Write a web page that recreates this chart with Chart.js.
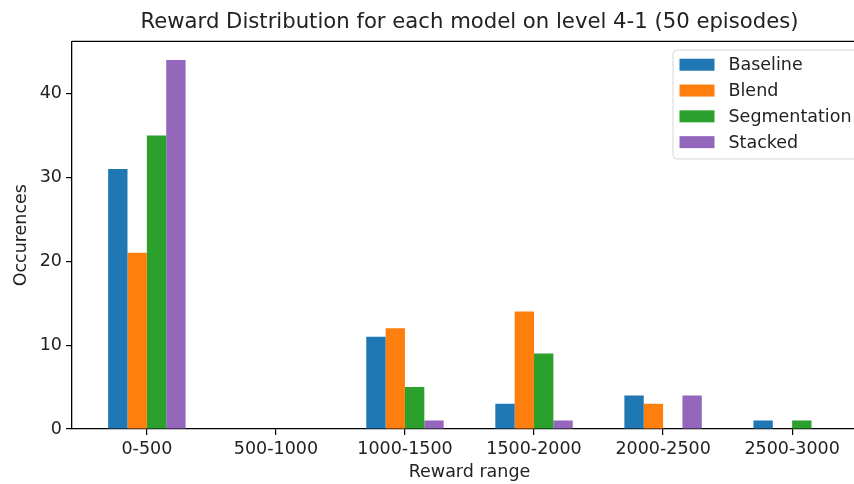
<!DOCTYPE html>
<html>
<head>
<meta charset="utf-8">
<title>Reward Distribution</title>
<script src="https://cdn.jsdelivr.net/npm/chart.js@4.4.1/dist/chart.umd.min.js"></script>
<style>
  html, body { margin: 0; padding: 0; background: #fff; overflow: hidden; }
  #wrap { width: 880px; height: 484px; }
</style>
</head>
<body>
<div id="wrap"><canvas id="chart" width="880" height="484"></canvas></div>
<script>
// reward buckets (x categories)
const categories = ["0-500", "500-1000", "1000-1500", "1500-2000", "2000-2500", "2500-3000"];

// occurrences per bucket for each model
const baseline = [31, 0, 11, 3, 4, 1];
const blend = [21, 0, 12, 14, 3, 0];
const segmentation = [35, 0, 5, 9, 0, 1];
const stacked = [44, 0, 1, 1, 4, 0];

const yTicks = [0, 10, 20, 30, 40];

const FONT = "'DejaVu Sans', sans-serif";
const TEXT = "#222";

const toPoints = (vals) => vals.map((v, i) => ({ x: i, y: v }));

// top/right spines, like the matplotlib frame
const framePlugin = {
  id: "frame",
  afterDraw(chart) {
    const { ctx, chartArea: a } = chart;
    ctx.save();
    ctx.strokeStyle = "#000";
    ctx.lineWidth = 1.3;
    ctx.beginPath();
    ctx.moveTo(a.left, a.top);
    ctx.lineTo(a.right, a.top);
    ctx.lineTo(a.right, a.bottom);
    ctx.stroke();
    ctx.restore();
  },
};

// legend boxed inside the upper right corner
const insideLegend = {
  id: "insideLegend",
  afterDraw(chart) {
    const { ctx, chartArea: a } = chart;
    const sets = chart.data.datasets;
    const size = 17.5;
    ctx.save();
    ctx.font = size + "px " + FONT;
    const textW = Math.max(...sets.map((d) => ctx.measureText(d.label).width));
    const pad = 7, handle = 35, gap = 14, row = 25.8;
    const w = pad + handle + gap + textW + pad;
    const h = 109;
    const x = a.right - 8.5 - w;
    const y = a.top + 8;

    ctx.globalAlpha = 0.8;
    ctx.fillStyle = "#fff";
    ctx.strokeStyle = "#cccccc";
    ctx.lineWidth = 1;
    ctx.beginPath();
    ctx.roundRect(x + 0.5, y + 0.5, w, h, 4);
    ctx.fill();
    ctx.stroke();
    ctx.globalAlpha = 1;

    ctx.textBaseline = "middle";
    sets.forEach((d, i) => {
      const cy = y + 15.3 + i * row;
      ctx.fillStyle = d.backgroundColor;
      ctx.fillRect(x + pad, cy - 6, handle, 12);
      ctx.fillStyle = TEXT;
      ctx.fillText(d.label, x + pad + handle + gap, cy + 1);
    });
    ctx.restore();
  },
};

new Chart(document.getElementById("chart"), {
  type: "bar",
  data: {
    datasets: [
      { label: "Baseline", data: toPoints(baseline), backgroundColor: "#1f77b4" },
      { label: "Blend", data: toPoints(blend), backgroundColor: "#ff7f0e" },
      { label: "Segmentation", data: toPoints(segmentation), backgroundColor: "#2ca02c" },
      { label: "Stacked", data: toPoints(stacked), backgroundColor: "#9467bd" },
    ],
  },
  options: {
    responsive: false,
    animation: false,
    devicePixelRatio: 1,
    layout: { padding: { left: 0, right: 13, top: 0, bottom: 0 } },
    datasets: {
      bar: { categoryPercentage: 0.6, barPercentage: 1.0, borderWidth: 0 },
    },
    plugins: {
      legend: { display: false },
      tooltip: { enabled: false },
      title: {
        display: true,
        text: "Reward Distribution for each model on level 4-1 (50 episodes)",
        fullSize: false,
        color: TEXT,
        font: { family: FONT, size: 21.2, weight: "normal", lineHeight: 1.2 },
        padding: { top: 10, bottom: 6 },
      },
    },
    scales: {
      x: {
        type: "linear",
        offset: false,
        min: -0.58,
        max: 5.58,
        afterBuildTicks: (s) => {
          s.ticks = categories.map((_, i) => ({ value: i }));
        },
        afterFit: (s) => { s.height = 55; },
        ticks: {
          autoSkip: false,
          maxRotation: 0,
          padding: 4,
          color: TEXT,
          font: { family: FONT, size: 17.5 },
          callback: (v) => categories[v],
        },
        grid: { offset: false, drawOnChartArea: false, drawTicks: true, tickLength: 6, color: "#000", lineWidth: 1.2 },
        border: { display: true, color: "#000", width: 1.3 },
        title: {
          display: true,
          text: "Reward range",
          color: TEXT,
          font: { family: FONT, size: 17.5, lineHeight: 1.2 },
          padding: { top: 0, bottom: 1 },
        },
      },
      y: {
        min: 0,
        max: 46.2,
        afterBuildTicks: (s) => {
          s.ticks = yTicks.map((v) => ({ value: v }));
        },
        afterFit: (s) => { s.width = 72; },
        ticks: {
          padding: 4,
          color: TEXT,
          font: { family: FONT, size: 17.5 },
        },
        grid: { drawOnChartArea: false, drawTicks: true, tickLength: 6, color: "#000", lineWidth: 1.2 },
        border: { display: true, color: "#000", width: 1.3 },
        title: {
          display: true,
          text: "Occurences",
          color: TEXT,
          font: { family: FONT, size: 17.5, lineHeight: 1.2 },
          padding: { top: 11, bottom: 0 },
        },
      },
    },
  },
  plugins: [framePlugin, insideLegend],
});
</script>
</body>
</html>
